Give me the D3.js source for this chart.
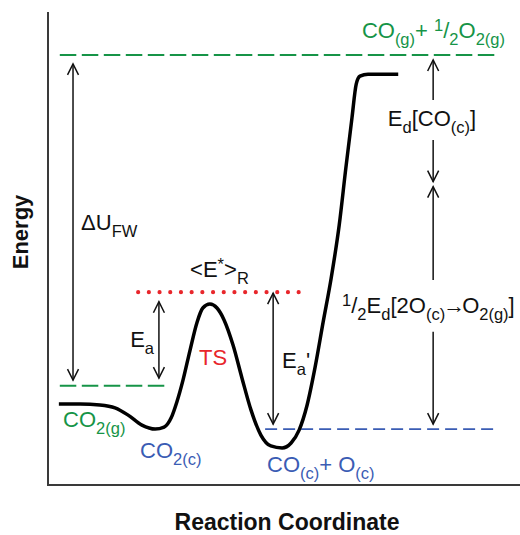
<!DOCTYPE html>
<html>
<head>
<meta charset="utf-8">
<script src="https://cdn.jsdelivr.net/npm/d3@7"></script>
<style>
  body { margin: 0; background: #fff; }
  svg { display: block; font-family: "Liberation Sans", Arial, Helvetica, sans-serif; }
</style>
</head>
<body>
<svg width="520" height="535"></svg>
<script>
// reaction coordinate runs 0..100, energy has CO2(g) = 0 and CO(g) + 1/2 O2(g) = 100
const pathCoord  = [2.3, 6.8, 11.0, 14.2, 16.9, 19.9, 22.7, 24.6, 26.1, 27.3, 28.6, 30.1, 31.6, 32.8, 34.3,
                    35.8, 37.3, 39.2, 41.1, 43.0, 45.1, 47.2, 49.6, 51.5, 53.2, 54.9, 56.6, 58.3, 60.0,
                    61.7, 63.1, 64.4, 65.3, 66.1, 67.8, 74.2];
const pathEnergy = [-5.5, -5.5, -5.8, -6.7, -8.8, -11.9, -13.1, -12.5, -9.7, -4.9, 1.7, 10.8, 19.3, 23.5, 24.7,
                    23.5, 19.9, 12.3, 2.3, -7.3, -14.9, -18.2, -18.8, -17.3, -13.4, -5.8, 5.7, 19.3, 32.6,
                    48.6, 65.8, 81.0, 91.2, 93.6, 94.2, 94.2];

// reference levels: gas products, gas reactant, adsorbed products, mean reactive energy
const levelNames  = ["gasProducts", "gasReactant", "adsorbed", "meanReactive"];
const levelEnergy = [100, 0, -13.1, 28.3];
const levelFrom   = [2.5, 2.5, 46.0, 19.1];
const levelTo     = [95.1, 25.2, 95.1, 53.4];

// energy arrows: coordinate, tail, head (both = double headed)
const arrowCoord = [5.3, 23.5, 47.7, 81.6, 81.6, 81.6, 81.6];
const arrowFrom  = [1.7, 2.3, -11.6, 86.4, 74.3, 32.0, 16.3];
const arrowTo    = [97.3, 25.4, 28.0, 98.5, 61.7, 60.2, -11.6];
const arrowBoth  = [true, true, true, false, false, false, false];

// labels: text pieces as [text, "n" | "sub" | "sup"]
const labelText = [
  [["CO", "n"], ["(g)", "sub"], ["+ ", "n"], ["1", "sup"], ["/", "n"], ["2", "sub"], ["O", "n"], ["2(g)", "sub"]],
  [["E", "n"], ["d", "sub"], ["[CO", "n"], ["(c)", "sub"], ["]", "n"]],
  [["<E", "n"], ["*", "sup"], [">", "n"], ["R", "sub"]],
  [["E", "n"], ["a", "sub"]],
  [["TS", "n"]],
  [["\u0394U", "n"], ["FW", "sub"]],
  [["CO", "n"], ["2(g)", "sub"]],
  [["CO", "n"], ["2(c)", "sub"]],
  [["CO", "n"], ["(c)", "sub"], ["+ O", "n"], ["(c)", "sub"]],
  [["E", "n"], ["a", "sub"], ["'", "n"]],
  [["1", "sup"], ["/", "n"], ["2", "sub"], ["E", "n"], ["d", "sub"], ["[2O", "n"], ["(c)", "sub"], ["\u2192", "n"], ["O", "n"], ["2(g)", "sub"], ["]", "n"]]
];
const labelCoord  = [66.5, 72.0, 30.1, 17.4, 32.0, 7.0, 3.2, 19.5, 46.4, 49.6, 62.3];
const labelEnergy = [105.1, 78.5, 32.9, 11.7, 6.3, 47.1, -12.5, -21.8, -26.1, 5.4, 22.0];
const labelTone   = ["green", "black", "black", "black", "red", "black", "green", "blue", "blue", "black", "black"];

const colors = { green: "#169447", blue: "#3a5cb4", red: "#e8262b", black: "#111" };
const levelStyle = [
  { color: colors.green, dash: "16.5,5.5", width: 2 },
  { color: colors.green, dash: "16.5,5.5", width: 2 },
  { color: colors.blue, dash: "12,6", width: 1.8 },
  { color: colors.red, dash: "0,10.7", width: 4.2, cap: "round" }
];

const svg = d3.select("svg");
const x = d3.scaleLinear().domain([0, 100]).range([48, 520]);
const y = d3.scaleLinear().domain([-30, 113]).range([485, 12]);

// axes frame (left + bottom only)
svg.append("line")
  .attr("x1", x(0)).attr("x2", x(0))
  .attr("y1", y(113)).attr("y2", y(-30) + 1)
  .attr("stroke", "#3a3a3a").attr("stroke-width", 2);
svg.append("line")
  .attr("x1", x(0)).attr("x2", x(100))
  .attr("y1", y(-30)).attr("y2", y(-30))
  .attr("stroke", "#3a3a3a").attr("stroke-width", 2);

// levels
svg.selectAll(".level")
  .data(levelNames)
  .enter().append("line")
  .attr("class", "level")
  .attr("x1", (d, i) => x(levelFrom[i]))
  .attr("x2", (d, i) => x(levelTo[i]))
  .attr("y1", (d, i) => y(levelEnergy[i]))
  .attr("y2", (d, i) => y(levelEnergy[i]))
  .attr("stroke", (d, i) => levelStyle[i].color)
  .attr("stroke-width", (d, i) => levelStyle[i].width)
  .attr("stroke-dasharray", (d, i) => levelStyle[i].dash)
  .attr("stroke-linecap", (d, i) => levelStyle[i].cap || "butt");

// energy profile
const pts = pathCoord.map((c, i) => [c, pathEnergy[i]]);
svg.append("path")
  .datum(pts)
  .attr("fill", "none")
  .attr("stroke", "#000")
  .attr("stroke-width", 3.5)
  .attr("stroke-linejoin", "round")
  .attr("d", d3.line().x(d => x(d[0])).y(d => y(d[1])).curve(d3.curveMonotoneX));

// arrowheads (open chevrons)
const defs = svg.append("defs");
defs.append("marker")
  .attr("id", "head")
  .attr("markerUnits", "userSpaceOnUse")
  .attr("viewBox", "-12 -7 14 14")
  .attr("refX", 0).attr("refY", 0)
  .attr("markerWidth", 14).attr("markerHeight", 14)
  .attr("orient", "auto-start-reverse")
  .append("path")
  .attr("d", "M-11,-5.5L0,0L-11,5.5")
  .attr("fill", "none")
  .attr("stroke", "#111")
  .attr("stroke-width", 1.5);

svg.selectAll(".arrow")
  .data(arrowCoord)
  .enter().append("line")
  .attr("class", "arrow")
  .attr("x1", d => x(d)).attr("x2", d => x(d))
  .attr("y1", (d, i) => y(arrowFrom[i]))
  .attr("y2", (d, i) => y(arrowTo[i]))
  .attr("stroke", "#111")
  .attr("stroke-width", 1.5)
  .attr("marker-end", "url(#head)")
  .attr("marker-start", (d, i) => arrowBoth[i] ? "url(#head)" : null);

// labels with sub/superscripts
const mainSize = 22, smallSize = 16.5, shift = { n: 0, sub: 7, sup: -7 };
labelText.forEach((pieces, i) => {
  const t = svg.append("text")
    .attr("x", x(labelCoord[i]))
    .attr("y", y(labelEnergy[i]))
    .attr("fill", colors[labelTone[i]])
    .attr("font-size", mainSize);
  let cur = 0;
  pieces.forEach(([txt, kind]) => {
    const sp = t.append("tspan")
      .attr("dy", shift[kind] - cur)
      .attr("font-size", kind === "n" ? mainSize : smallSize)
      .text(txt);
    if (txt === "\u2192") sp.attr("letter-spacing", -3).attr("dx", -2);
    cur = shift[kind];
  });
});

// axis titles
svg.append("text")
  .attr("transform", `translate(28,${y(46.5)}) rotate(-90)`)
  .attr("text-anchor", "middle")
  .attr("font-weight", "bold")
  .attr("font-size", 22)
  .attr("fill", "#111")
  .text("Energy");
svg.append("text")
  .attr("x", 287)
  .attr("y", 530)
  .attr("text-anchor", "middle")
  .attr("font-weight", "bold")
  .attr("font-size", 23)
  .attr("fill", "#111")
  .text("Reaction Coordinate");
</script>
</body>
</html>
